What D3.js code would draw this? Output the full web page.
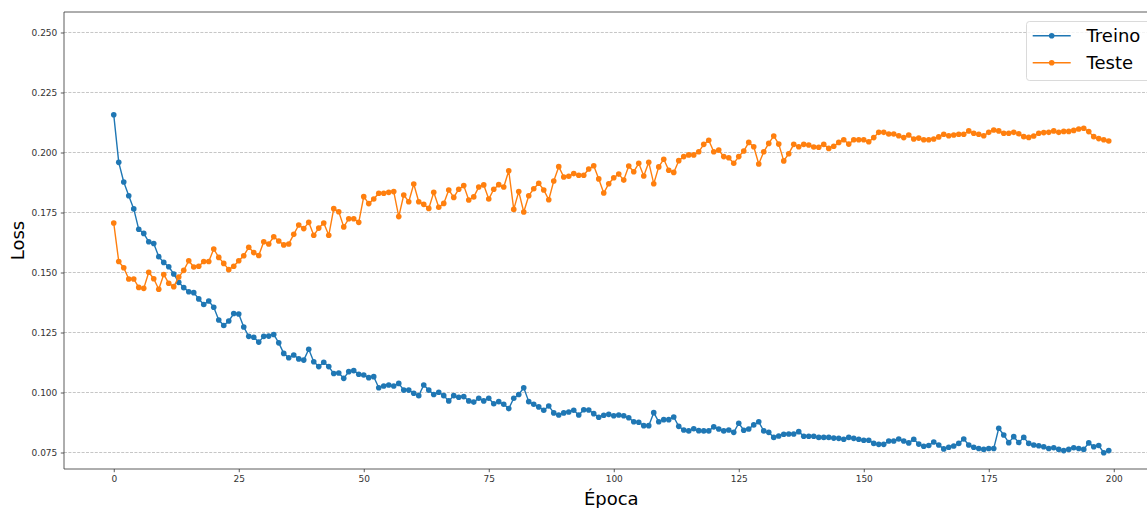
<!DOCTYPE html>
<html>
<head>
<meta charset="utf-8">
<script src="https://cdn.jsdelivr.net/npm/d3@7"></script>
<style>
  body { margin: 0; background: #fff; }
  svg { display: block; }
</style>
</head>
<body>
<svg id="chart" width="1147" height="508"></svg>
<script>
// Loss per epoch (0..199) for the training and test sets
const lossTreino = [
  0.2157, 0.1959, 0.1877, 0.1820, 0.1765, 0.1680, 0.1663, 0.1628, 0.1621, 0.1566,
  0.1542, 0.1524, 0.1494, 0.1459, 0.1437, 0.1420, 0.1416, 0.1390, 0.1367, 0.1381,
  0.1355, 0.1302, 0.1279, 0.1298, 0.1329, 0.1327, 0.1273, 0.1234, 0.1230, 0.1210,
  0.1234, 0.1235, 0.1242, 0.1207, 0.1163, 0.1145, 0.1156, 0.1140, 0.1135, 0.1180,
  0.1128, 0.1108, 0.1126, 0.1108, 0.1079, 0.1081, 0.1059, 0.1087, 0.1091, 0.1076,
  0.1073, 0.1062, 0.1066, 0.1020, 0.1027, 0.1031, 0.1027, 0.1038, 0.1010, 0.1010,
  0.0997, 0.0987, 0.1031, 0.1010, 0.0992, 0.1001, 0.0987, 0.0965, 0.0987, 0.0980,
  0.0983, 0.0965, 0.0960, 0.0976, 0.0965, 0.0976, 0.0953, 0.0962, 0.0951, 0.0933,
  0.0976, 0.0992, 0.1020, 0.0962, 0.0951, 0.0940, 0.0926, 0.0944, 0.0915, 0.0906,
  0.0915, 0.0919, 0.0926, 0.0906, 0.0928, 0.0927, 0.0912, 0.0897, 0.0905, 0.0909,
  0.0903, 0.0906, 0.0903, 0.0895, 0.0878, 0.0876, 0.0862, 0.0862, 0.0916, 0.0878,
  0.0887, 0.0887, 0.0898, 0.0859, 0.0844, 0.0840, 0.0849, 0.0841, 0.0840, 0.0840,
  0.0857, 0.0848, 0.0840, 0.0844, 0.0834, 0.0872, 0.0843, 0.0848, 0.0865, 0.0878,
  0.0840, 0.0834, 0.0813, 0.0819, 0.0826, 0.0827, 0.0827, 0.0837, 0.0818, 0.0818,
  0.0818, 0.0813, 0.0813, 0.0813, 0.0810, 0.0809, 0.0805, 0.0813, 0.0809, 0.0805,
  0.0801, 0.0801, 0.0788, 0.0784, 0.0784, 0.0798, 0.0798, 0.0806, 0.0798, 0.0790,
  0.0805, 0.0785, 0.0776, 0.0779, 0.0794, 0.0781, 0.0765, 0.0772, 0.0777, 0.0788,
  0.0806, 0.0781, 0.0772, 0.0767, 0.0763, 0.0767, 0.0767, 0.0851, 0.0823, 0.0791,
  0.0816, 0.0792, 0.0813, 0.0788, 0.0781, 0.0778, 0.0774, 0.0767, 0.0770, 0.0763,
  0.0758, 0.0763, 0.0770, 0.0767, 0.0763, 0.0790, 0.0774, 0.0779, 0.0749, 0.0758
];

const lossTeste = [
  0.1706, 0.1546, 0.1520, 0.1473, 0.1473, 0.1438, 0.1434, 0.1501, 0.1474, 0.1430,
  0.1492, 0.1455, 0.1441, 0.1481, 0.1509, 0.1549, 0.1523, 0.1526, 0.1546, 0.1546,
  0.1598, 0.1563, 0.1538, 0.1512, 0.1526, 0.1549, 0.1570, 0.1605, 0.1583, 0.1571,
  0.1628, 0.1619, 0.1649, 0.1631, 0.1615, 0.1619, 0.1659, 0.1698, 0.1683, 0.1709,
  0.1655, 0.1685, 0.1706, 0.1655, 0.1766, 0.1753, 0.1690, 0.1724, 0.1724, 0.1709,
  0.1816, 0.1787, 0.1806, 0.1830, 0.1830, 0.1834, 0.1837, 0.1733, 0.1823, 0.1795,
  0.1869, 0.1795, 0.1784, 0.1767, 0.1834, 0.1772, 0.1788, 0.1844, 0.1813, 0.1847,
  0.1862, 0.1802, 0.1815, 0.1856, 0.1865, 0.1806, 0.1847, 0.1866, 0.1856, 0.1924,
  0.1763, 0.1837, 0.1752, 0.1820, 0.1849, 0.1872, 0.1844, 0.1803, 0.1881, 0.1941,
  0.1898, 0.1901, 0.1912, 0.1905, 0.1905, 0.1931, 0.1945, 0.1890, 0.1831, 0.1870,
  0.1895, 0.1910, 0.1885, 0.1944, 0.1920, 0.1955, 0.1902, 0.1959, 0.1870, 0.1940,
  0.1972, 0.1926, 0.1917, 0.1966, 0.1983, 0.1990, 0.1990, 0.2003, 0.2034, 0.2051,
  0.2003, 0.2010, 0.1983, 0.1978, 0.1955, 0.1983, 0.2006, 0.2042, 0.2024, 0.1952,
  0.2003, 0.2038, 0.2069, 0.2035, 0.1965, 0.1995, 0.2034, 0.2024, 0.2034, 0.2031,
  0.2023, 0.2022, 0.2034, 0.2017, 0.2026, 0.2042, 0.2053, 0.2035, 0.2053, 0.2053,
  0.2053, 0.2045, 0.2062, 0.2084, 0.2084, 0.2077, 0.2077, 0.2070, 0.2062, 0.2073,
  0.2056, 0.2060, 0.2053, 0.2053, 0.2056, 0.2065, 0.2076, 0.2070, 0.2073, 0.2076,
  0.2076, 0.2090, 0.2080, 0.2076, 0.2070, 0.2084, 0.2094, 0.2090, 0.2080, 0.2080,
  0.2084, 0.2078, 0.2066, 0.2063, 0.2069, 0.2080, 0.2083, 0.2084, 0.2090, 0.2084,
  0.2088, 0.2088, 0.2092, 0.2098, 0.2101, 0.2087, 0.2066, 0.2058, 0.2053, 0.2048
];

const seriesNames = ["Treino", "Teste"];
const seriesColors = ["#1f77b4", "#ff7f0e"];
const xTickValues = [0, 25, 50, 75, 100, 125, 150, 175, 200];
const yTickValues = [0.075, 0.100, 0.125, 0.150, 0.175, 0.200, 0.225, 0.250];

const FONT = "'DejaVu Sans', sans-serif";
const svg = d3.select("#chart");

// plot area (its right edge runs past the visible canvas)
const plotLeft = 64, plotTop = 12, plotBottom = 469, plotRight = 1158.5;

const x = d3.scaleLinear().domain([-9.95, 208.95]).range([plotLeft, plotRight]);
const y = d3.scaleLinear().domain([0.06813, 0.25854]).range([plotBottom, plotTop]);

// horizontal dashed grid
svg.append("g")
  .selectAll("line")
  .data(yTickValues)
  .join("line")
  .attr("x1", plotLeft).attr("x2", plotRight)
  .attr("y1", d => y(d)).attr("y2", d => y(d))
  .attr("stroke", "#b8b8b8")
  .attr("stroke-width", 0.8)
  .attr("stroke-dasharray", "3,1.4");

// each series: line then markers
const seriesData = [lossTreino, lossTeste];
const lineGen = d3.line().x((d, i) => x(i)).y(d => y(d));

seriesData.forEach((vals, k) => {
  const g = svg.append("g");
  g.append("path")
    .datum(vals)
    .attr("d", lineGen)
    .attr("fill", "none")
    .attr("stroke", seriesColors[k])
    .attr("stroke-width", 1.4)
    .attr("stroke-linejoin", "round");
  g.selectAll("circle")
    .data(vals)
    .join("circle")
    .attr("cx", (d, i) => x(i))
    .attr("cy", d => y(d))
    .attr("r", 2.8)
    .attr("fill", seriesColors[k]);
});

// axes
const xAxis = d3.axisBottom(x).tickValues(xTickValues).tickFormat(d3.format("d"))
  .tickSize(3.2).tickPadding(3.5);
const yAxis = d3.axisLeft(y).tickValues(yTickValues).tickFormat(d3.format(".3f"))
  .tickSize(3.2).tickPadding(3.5);

const gx = svg.append("g").attr("transform", `translate(0,${plotBottom})`).call(xAxis);
const gy = svg.append("g").attr("transform", `translate(${plotLeft},0)`).call(yAxis);

[gx, gy].forEach(g => {
  g.select(".domain").remove();
  g.selectAll(".tick line").attr("stroke", "#333").attr("stroke-width", 0.8);
  g.selectAll(".tick text")
    .attr("fill", "#333")
    .style("font-family", FONT)
    .style("font-size", "9px");
});

// spines
const spines = svg.append("g").attr("stroke", "#333").attr("stroke-width", 0.8).attr("fill", "none");
spines.append("line").attr("x1", plotLeft).attr("x2", plotLeft).attr("y1", plotTop).attr("y2", plotBottom);
spines.append("line").attr("x1", plotLeft).attr("x2", plotRight).attr("y1", plotBottom).attr("y2", plotBottom);
spines.append("line").attr("x1", plotLeft).attr("x2", plotRight).attr("y1", plotTop).attr("y2", plotTop);
spines.append("line").attr("x1", plotRight).attr("x2", plotRight).attr("y1", plotTop).attr("y2", plotBottom);

// axis labels
svg.append("text")
  .attr("x", (plotLeft + plotRight) / 2)
  .attr("y", 505)
  .attr("text-anchor", "middle")
  .style("font-family", FONT)
  .style("font-size", "18px")
  .attr("fill", "#000")
  .text("Época");

svg.append("text")
  .attr("transform", `translate(24,${(plotTop + plotBottom) / 2}) rotate(-90)`)
  .attr("text-anchor", "middle")
  .style("font-family", FONT)
  .style("font-size", "18px")
  .attr("fill", "#000")
  .text("Loss");

// legend
const legend = svg.append("g");
legend.append("rect")
  .attr("x", 1026.5).attr("y", 21.5)
  .attr("width", 140).attr("height", 59)
  .attr("rx", 3)
  .attr("fill", "#fff").attr("fill-opacity", 0.8)
  .attr("stroke", "#d0d0d0").attr("stroke-width", 0.8);

seriesNames.forEach((name, k) => {
  const ly = 35.7 + k * 27;
  legend.append("line")
    .attr("x1", 1032.7).attr("x2", 1070.7)
    .attr("y1", ly).attr("y2", ly)
    .attr("stroke", seriesColors[k]).attr("stroke-width", 1.4);
  legend.append("circle")
    .attr("cx", 1051.7).attr("cy", ly).attr("r", 2.8)
    .attr("fill", seriesColors[k]);
  legend.append("text")
    .attr("x", 1086.5).attr("y", ly + 6.5)
    .style("font-family", FONT)
    .style("font-size", "18px")
    .attr("fill", "#000")
    .text(name);
});
</script>
</body>
</html>
